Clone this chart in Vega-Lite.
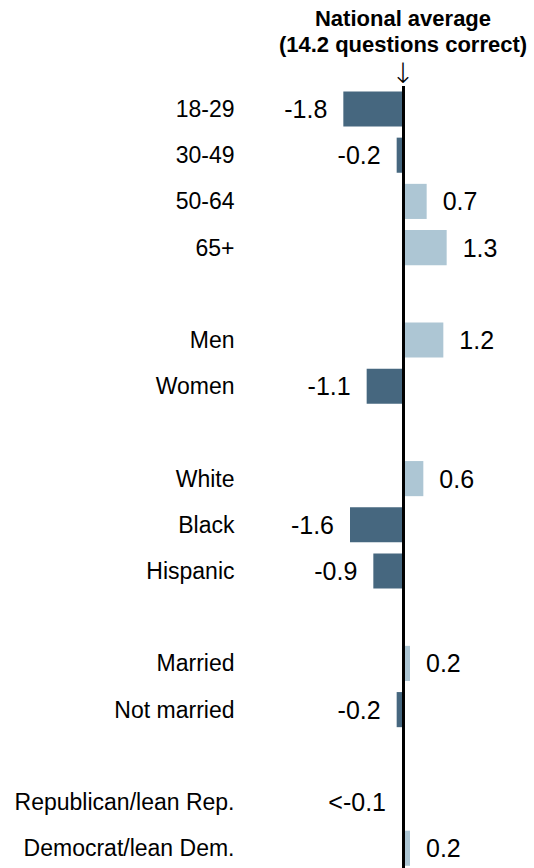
{
  "$schema": "https://vega.github.io/schema/vega-lite/v6.json",
  "width": 290,
  "height": 782,
  "autosize": {"type": "none"},
  "padding": {"left": 240, "top": 86, "right": 4, "bottom": 0},
  "background": "white",
  "config": {"view": {"stroke": null}, "font": "Liberation Sans"},
  "title": {
    "text": ["National average", "(14.2 questions correct)"],
    "subtitle": "↓",
    "font": "Liberation Sans",
    "fontSize": 22,
    "fontWeight": "bold",
    "color": "black",
    "lineHeight": 26,
    "subtitleFont": "DejaVu Sans",
    "subtitleFontSize": 28,
    "subtitleFontWeight": 200,
    "subtitleColor": "black",
    "subtitlePadding": 4,
    "anchor": "middle",
    "dx": 18,
    "offset": -5
  },
  "data": {
    "values": [
      {"group": "18-29", "value": -1.8, "label": "-1.8"},
      {"group": "30-49", "value": -0.2, "label": "-0.2"},
      {"group": "50-64", "value": 0.7, "label": "0.7"},
      {"group": "65+", "value": 1.3, "label": "1.3"},
      {"group": "Men", "value": 1.2, "label": "1.2"},
      {"group": "Women", "value": -1.1, "label": "-1.1"},
      {"group": "White", "value": 0.6, "label": "0.6"},
      {"group": "Black", "value": -1.6, "label": "-1.6"},
      {"group": "Hispanic", "value": -0.9, "label": "-0.9"},
      {"group": "Married", "value": 0.2, "label": "0.2"},
      {"group": "Not married", "value": -0.2, "label": "-0.2"},
      {"group": "Republican/lean Rep.", "value": -0.04, "label": "<-0.1"},
      {"group": "Democrat/lean Dem.", "value": 0.2, "label": "0.2"}
    ]
  },
  "layer": [
    {
      "mark": {"type": "bar"},
      "encoding": {
        "y": {
          "field": "group",
          "type": "nominal",
          "scale": {
            "domain": ["18-29", "30-49", "50-64", "65+", " ", "Men", "Women", "  ", "White", "Black", "Hispanic", "   ", "Married", "Not married", "    ", "Republican/lean Rep.", "Democrat/lean Dem."],
            "paddingInner": 0.24,
            "paddingOuter": 0.083,
            "align": 0.71
          },
          "axis": {
            "title": null,
            "ticks": false,
            "domain": false,
            "labelFont": "Liberation Sans",
            "labelFontSize": 23,
            "labelColor": "black",
            "labelPadding": 6,
            "labelOffset": 1,
            "labelLimit": 300
          }
        },
        "x": {
          "field": "value",
          "type": "quantitative",
          "scale": {"domain": [-4.9, 3.8], "nice": false, "zero": false},
          "axis": null
        },
        "color": {
          "condition": {"test": "datum.value < 0", "value": "#46677f"},
          "value": "#adc6d4"
        }
      }
    },
    {
      "transform": [{"filter": "datum.value < 0"}],
      "mark": {"type": "text", "align": "right", "baseline": "middle", "dx": -16, "dy": 1, "fontSize": 25, "font": "Liberation Sans", "color": "black"},
      "encoding": {
        "y": {"field": "group", "type": "nominal"},
        "x": {"field": "value", "type": "quantitative"},
        "text": {"field": "label"}
      }
    },
    {
      "transform": [{"filter": "datum.value >= 0"}],
      "mark": {"type": "text", "align": "left", "baseline": "middle", "dx": 16, "dy": 1, "fontSize": 25, "font": "Liberation Sans", "color": "black"},
      "encoding": {
        "y": {"field": "group", "type": "nominal"},
        "x": {"field": "value", "type": "quantitative"},
        "text": {"field": "label"}
      }
    },
    {
      "mark": {"type": "rule", "strokeWidth": 2.5, "color": "black"},
      "encoding": {"x": {"datum": 0}}
    }
  ]
}
